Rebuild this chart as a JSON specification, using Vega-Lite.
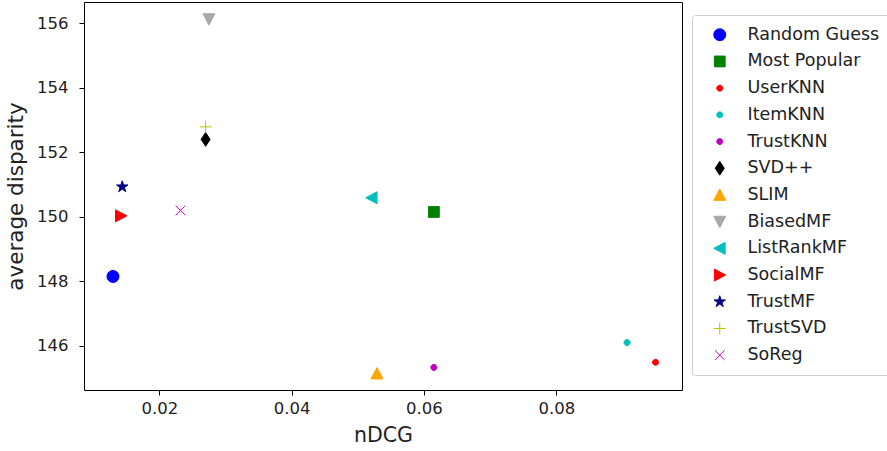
{
  "$schema": "https://vega.github.io/schema/vega-lite/v6.json",
  "autosize": {"type": "none"},
  "padding": {"left": 84, "top": 2, "right": 205, "bottom": 61},
  "width": 598,
  "height": 388,
  "background": "white",
  "config": {
    "font": "DejaVu Sans",
    "view": {"stroke": "black", "strokeWidth": 1},
    "axis": {
      "grid": false,
      "domain": false,
      "tickColor": "black",
      "tickSize": 5,
      "labelColor": "#222222",
      "labelFont": "DejaVu Sans",
      "labelFontSize": 16.5,
      "titleFont": "DejaVu Sans",
      "titleFontSize": 20.5,
      "titleFontWeight": "normal",
      "titleColor": "#222222"
    },
    "legend": {
      "labelFont": "DejaVu Sans",
      "labelFontSize": 17.5,
      "labelColor": "#222222",
      "strokeColor": "#cccccc",
      "fillColor": "white",
      "cornerRadius": 3,
      "padding": 11,
      "symbolOffset": 8,
      "rowPadding": 7.7,
      "labelOffset": 19,
      "symbolSize": 144,
      "symbolStrokeWidth": 1,
      "labelLimit": 300
    }
  },
  "data": {
    "values": [
      {"method": "Random Guess", "ndcg": 0.0130, "disparity": 148.15},
      {"method": "Most Popular", "ndcg": 0.0615, "disparity": 150.15},
      {"method": "UserKNN", "ndcg": 0.0950, "disparity": 145.49},
      {"method": "ItemKNN", "ndcg": 0.0907, "disparity": 146.1},
      {"method": "TrustKNN", "ndcg": 0.0615, "disparity": 145.33},
      {"method": "SVD++", "ndcg": 0.0270, "disparity": 152.4},
      {"method": "SLIM", "ndcg": 0.0529, "disparity": 145.14},
      {"method": "BiasedMF", "ndcg": 0.0275, "disparity": 156.13},
      {"method": "ListRankMF", "ndcg": 0.0521, "disparity": 150.59},
      {"method": "SocialMF", "ndcg": 0.0142, "disparity": 150.03},
      {"method": "TrustMF", "ndcg": 0.0144, "disparity": 150.93},
      {"method": "TrustSVD", "ndcg": 0.0270, "disparity": 152.79},
      {"method": "SoReg", "ndcg": 0.0232, "disparity": 150.2}
    ]
  },
  "mark": {"type": "point", "filled": true, "opacity": 1, "size": 144, "strokeWidth": 1},
  "encoding": {
    "x": {
      "field": "ndcg", "type": "quantitative", "title": "nDCG",
      "scale": {"domain": [0.00862, 0.0990], "nice": false, "zero": false},
      "axis": {"values": [0.02, 0.04, 0.06, 0.08], "format": ".2f", "labelPadding": 5, "titlePadding": 9}
    },
    "y": {
      "field": "disparity", "type": "quantitative", "title": "average disparity",
      "scale": {"domain": [144.63, 156.66], "nice": false, "zero": false},
      "axis": {"values": [146, 148, 150, 152, 154, 156], "format": "d", "labelPadding": 11, "titlePadding": 9, "titleFontSize": 21.5}
    },
    "fill": {
      "field": "method", "type": "nominal",
      "scale": {
        "domain": ["Random Guess", "Most Popular", "UserKNN", "ItemKNN", "TrustKNN", "SVD++", "SLIM", "BiasedMF", "ListRankMF", "SocialMF", "TrustMF", "TrustSVD", "SoReg"],
        "range": ["#0000ff", "#008000", "#ff0000", "#00bfbf", "#bf00bf", "#000000", "#ffa500", "#a9a9a9", "#00bfbf", "#ff0000", "#000080", "#bfbf00", "#bf00bf"]
      },
      "legend": {"orient": "none", "legendX": 608, "legendY": 13, "title": null}
    },
    "stroke": {
      "field": "method", "type": "nominal",
      "scale": {
        "domain": ["Random Guess", "Most Popular", "UserKNN", "ItemKNN", "TrustKNN", "SVD++", "SLIM", "BiasedMF", "ListRankMF", "SocialMF", "TrustMF", "TrustSVD", "SoReg"],
        "range": ["#0000ff", "#008000", "#ff0000", "#00bfbf", "#bf00bf", "#000000", "#ffa500", "#a9a9a9", "#00bfbf", "#ff0000", "#000080", "#bfbf00", "#bf00bf"]
      },
      "legend": {"orient": "none", "legendX": 608, "legendY": 13, "title": null}
    },
    "shape": {
      "field": "method", "type": "nominal",
      "scale": {
        "domain": ["Random Guess", "Most Popular", "UserKNN", "ItemKNN", "TrustKNN", "SVD++", "SLIM", "BiasedMF", "ListRankMF", "SocialMF", "TrustMF", "TrustSVD", "SoReg"],
        "range": [
          "circle",
          "M-0.9,-0.9L0.9,-0.9L0.9,0.9L-0.9,0.9Z",
          "M-0.5,0A0.5,0.5 0 1,0 0.5,0A0.5,0.5 0 1,0 -0.5,0Z",
          "M-0.5,0A0.5,0.5 0 1,0 0.5,0A0.5,0.5 0 1,0 -0.5,0Z",
          "M-0.5,0A0.5,0.5 0 1,0 0.5,0A0.5,0.5 0 1,0 -0.5,0Z",
          "M0,-1.15L0.75,0L0,1.15L-0.75,0Z",
          "M0,-1L1,0.9L-1,0.9Z",
          "M0,1L1,-0.9L-1,-0.9Z",
          "M-1,0L0.9,-1L0.9,1Z",
          "M1,0L-0.9,-1L-0.9,1Z",
          "M0,-1L0.2245,-0.309L0.951,-0.309L0.363,0.118L0.588,0.809L0,0.382L-0.588,0.809L-0.363,0.118L-0.951,-0.309L-0.2245,-0.309Z",
          "M-1,0L1,0M0,-1L0,1",
          "M-0.8,-0.8L0.8,0.8M-0.8,0.8L0.8,-0.8"
        ]
      },
      "legend": {"orient": "none", "legendX": 608, "legendY": 13, "title": null}
    }
  }
}
